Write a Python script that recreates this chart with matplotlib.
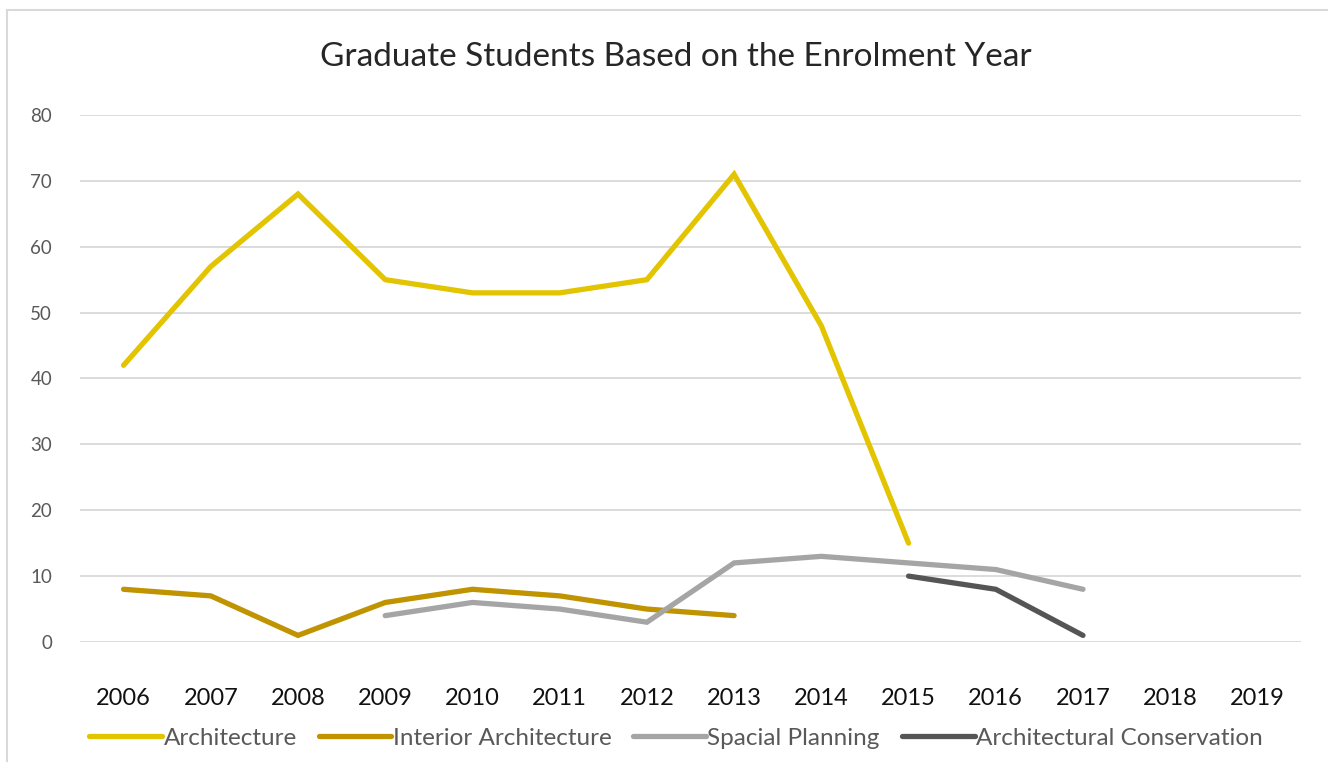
import matplotlib
matplotlib.use('Agg')
import matplotlib.pyplot as plt
from matplotlib.lines import Line2D
import numpy as np

plt.rcParams['font.family'] = ['Lato', 'DejaVu Sans']

years = ['2006', '2007', '2008', '2009', '2010', '2011', '2012',
         '2013', '2014', '2015', '2016', '2017', '2018', '2019']

# values per year, None where the programme had no graduates plotted
architecture = [42, 57, 68, 55, 53, 53, 55, 71, 48, 15, None, None, None, None]
interior = [8, 7, 1, 6, 8, 7, 5, 4, None, None, None, None, None, None]
spacial = [None, None, None, 4, 6, 5, 3, 12, 13, 12, 11, 8, None, None]
conservation = [None, None, None, None, None, None, None, None, None, 10, 8, 1, None, None]

series = [
    ('Architecture', architecture, '#E2C400'),
    ('Interior Architecture', interior, '#C09300'),
    ('Spacial Planning', spacial, '#A5A5A5'),
    ('Architectural Conservation', conservation, '#555555'),
]

fig = plt.figure(figsize=(13.28, 7.62), dpi=100)
ax = fig.add_axes([0.0602, 0.1575, 0.9195, 0.6916])

x = np.arange(len(years))
for name, vals, col in series:
    y = np.array([np.nan if v is None else v for v in vals], dtype=float)
    ax.plot(x, y, color=col, lw=3.8, label=name, solid_capstyle='round',
            solid_joinstyle='miter', clip_on=False, zorder=3)

ax.set_xlim(-0.5, len(years) - 0.5)
ax.set_ylim(0, 80)
ax.set_yticks(range(0, 81, 10))
ax.set_xticks(x)
ax.set_xticklabels(years)
ax.grid(axis='y', color='#D9D9D9', lw=1.3)
ax.set_axisbelow(True)
for s in ax.spines.values():
    s.set_visible(False)
ax.tick_params(axis='y', length=0, pad=20, labelsize=13.5, labelcolor='#595959')
ax.tick_params(axis='x', length=0, pad=33, labelsize=17, labelcolor='#111111')

fig.text(0.509, 0.925, 'Graduate Students Based on the Enrolment Year',
         ha='center', va='center', fontsize=24, color='#262626')

fig.legend(loc='center', bbox_to_anchor=(0.509, 0.031), ncol=4, frameon=False,
           fontsize=17.5, labelcolor='#595959', handlelength=3.0,
           handletextpad=0.05, columnspacing=0.9)

# chart border (cropped at right and bottom)
fig.add_artist(Line2D([7 / 1328, 7 / 1328], [0, 1 - 10 / 762], color='#D9D9D9', lw=1.5))
fig.add_artist(Line2D([7 / 1328, 1], [1 - 10 / 762, 1 - 10 / 762], color='#D9D9D9', lw=1.5))

fig.savefig('out.png', dpi=100)
